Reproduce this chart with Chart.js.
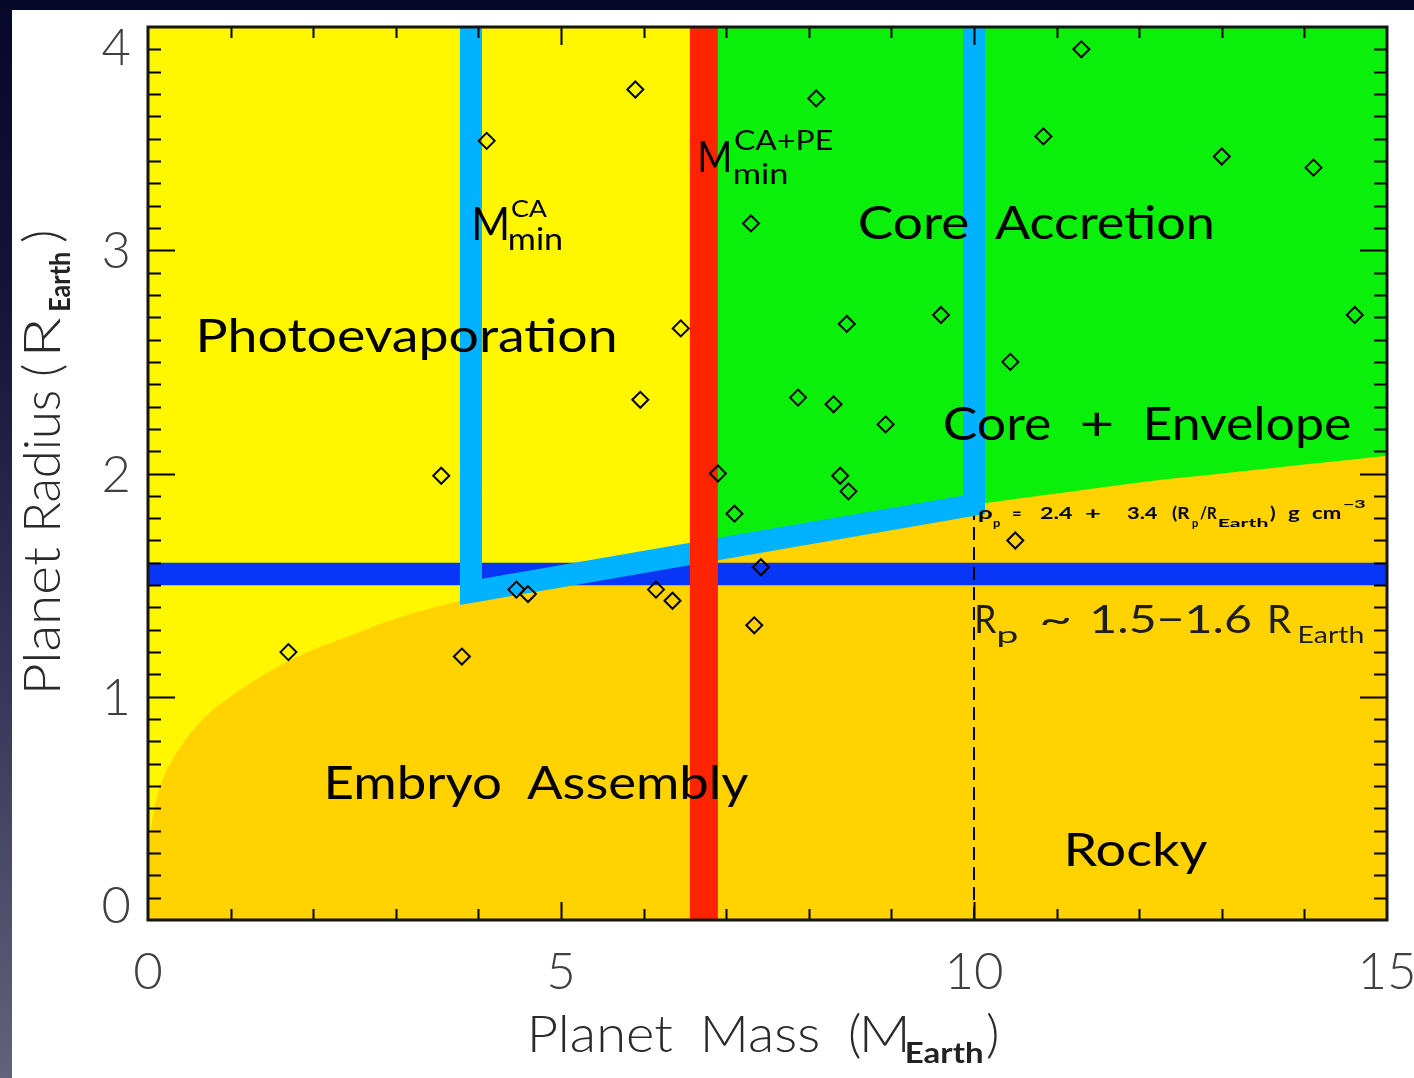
<!DOCTYPE html>
<html>
<head>
<meta charset="utf-8">
<script src="https://cdn.jsdelivr.net/npm/chart.js@4.4.1/dist/chart.umd.min.js"></script>
<style>
  html, body { margin: 0; padding: 0; }
  body {
    width: 1414px; height: 1078px; overflow: hidden;
    background: linear-gradient(to bottom, #07072a 0%, #16163a 30%, #38385a 65%, #62627c 100%);
  }
  canvas { position: absolute; left: 0; top: 0; display: block; }
</style>
</head>
<body>
<canvas id="chart" width="1414" height="1078"></canvas>
<script>
// ---- axes ----
const massRange = [0, 15];
const radiusRange = [0, 4];
const massTicks = [0, 5, 10, 15];
const radiusTicks = [0, 1, 2, 3, 4];

// ---- observed planets (mass in M_Earth, radius in R_Earth) ----
const planetMass   = [1.70, 3.55, 3.80, 4.10, 4.46, 4.60, 5.90, 5.96, 6.15, 6.35, 6.45,
                      6.90, 7.10, 7.30, 7.34, 7.42, 7.87, 8.09, 8.30, 8.38, 8.46, 8.48,
                      8.93, 9.60, 10.44, 10.50, 10.84, 11.30, 13.00, 14.11, 14.61];
const planetRadius = [1.20, 1.99, 1.18, 3.49, 1.48, 1.46, 3.72, 2.33, 1.48, 1.43, 2.65,
                      2.00, 1.82, 3.12, 1.32, 1.58, 2.34, 3.68, 2.31, 1.99, 2.67, 1.92,
                      2.22, 2.71, 2.50, 1.70, 3.51, 3.90, 3.42, 3.37, 2.71];

// ---- pure-rock mass-radius boundary ----
const rockyMass   = [0, 0.05, 0.1, 0.2, 0.3, 0.5, 0.75, 1, 1.5, 2, 2.5, 3, 4, 5, 6, 7, 8, 9, 10, 11, 12, 13, 14, 15];
const rockyRadius = [0.30, 0.44, 0.54, 0.65, 0.72, 0.83, 0.93, 1.00, 1.12, 1.21, 1.28, 1.35,
                     1.45, 1.54, 1.62, 1.69, 1.75, 1.81, 1.86, 1.91, 1.96, 2.00, 2.04, 2.08];

// ---- thresholds ----
const caMinMass   = [3.91, 3.91, 10.0, 10.0];   // M_min^CA track
const caMinRadius = [4.0, 1.47, 1.86, 4.0];
const pePeakMass  = [6.73, 6.73];               // M_min^CA+PE
const pePeakRadius = [0, 4];
const transitionRadius = [1.5, 1.6];            // R_p ~ 1.5-1.6 R_Earth
const densityMass = [10, 10];                   // density-relation marker
const densityRadius = [0, 1.84];
const photoMass = [0, 6.73];                    // photoevaporation domain
const accretionMass = [6.73, 15];               // core accretion domain

const pts = (xs, ys) => xs.map((x, i) => ({ x, y: ys[i] }));
const flat = (xs, v) => xs.map(x => ({ x, y: v }));

const C = {
  yellow: '#FFF600', green: '#0AF00A', gold: '#FFD200',
  red: '#FF2400', cyan: '#00B2FF', blue: '#0836F6'
};
const FONT = 'Lato, "DejaVu Sans", sans-serif';

// ---- text helpers ----
const capCache = {};
function capRatio(ctx, weight) {
  if (!capCache[weight]) {
    ctx.save();
    ctx.font = `${weight} 200px ${FONT}`;
    capCache[weight] = ctx.measureText('H').actualBoundingBoxAscent / 200;
    ctx.restore();
  }
  return capCache[weight];
}
// draws text whose ink spans x0..x1 with the given baseline and cap height;
// items flagged "natural" keep their own width and only start at x0
function fitText(ctx, item, x0, x1, base) {
  const weight = item.weight || '400';
  const size = item.cap / capRatio(ctx, weight);
  ctx.save();
  ctx.font = `${weight} ${size}px ${FONT}`;
  ctx.textAlign = 'left';
  ctx.textBaseline = 'alphabetic';
  const m = ctx.measureText(item.t);
  const w = m.actualBoundingBoxLeft + m.actualBoundingBoxRight;
  ctx.translate(x0, base);
  if (!item.natural) ctx.scale((x1 - x0) / w, 1);
  ctx.fillStyle = item.color || '#000';
  ctx.fillText(item.t, m.actualBoundingBoxLeft, 0);
  ctx.restore();
}

// in-plot annotations, anchored in data units (mass, radius)
const annotations = [
  { t: 'Photoevaporation', x0: 0.630, x1: 5.654, y: 2.544, cap: 34 },
  { t: 'Core', x0: 8.620, x1: 9.927, y: 3.050, cap: 33 },
  { t: 'Accretion', x0: 10.254, x1: 12.881, y: 3.050, cap: 33 },
  { t: 'Core', x0: 9.649, x1: 10.920, y: 2.150, cap: 33 },
  { t: '+', x0: 11.308, x1: 11.671, y: 2.150, cap: 33 },
  { t: 'Envelope', x0: 12.094, x1: 14.552, y: 2.150, cap: 33 },
  { t: 'Embryo', x0: 2.179, x1: 4.262, y: 0.542, cap: 34 },
  { t: 'Assembly', x0: 4.588, x1: 7.264, y: 0.542, cap: 34 },
  { t: 'Rocky', x0: 11.138, x1: 12.821, y: 0.242, cap: 34 },
  // M_min^CA
  { t: 'M', x0: 3.959, x1: 4.346, y: 3.046, cap: 33 },
  { t: 'CA', x0: 4.407, x1: 4.831, y: 3.149, cap: 17 },
  { t: 'min', x0: 4.383, x1: 5.012, y: 3.001, cap: 22 },
  // M_min^CA+PE
  { t: 'M', x0: 6.683, x1: 7.034, y: 3.350, cap: 30 },
  { t: 'CA+PE', x0: 7.107, x1: 8.281, y: 3.449, cap: 20 },
  { t: 'min', x0: 7.107, x1: 7.736, y: 3.297, cap: 21 },
  // R_p ~ 1.5-1.6 R_Earth
  { t: 'R', x0: 10.036, x1: 10.278, y: 1.286, cap: 28, color: '#1e1e1e' },
  { t: 'p', x0: 10.290, x1: 10.533, y: 1.241, cap: 17, color: '#1e1e1e' },
  { t: '~', x0: 10.823, x1: 11.162, y: 1.286, cap: 28, color: '#1e1e1e' },
  { t: '1.5\u22121.6', x0: 11.441, x1: 13.341, y: 1.286, cap: 28, color: '#1e1e1e' },
  { t: 'R', x0: 13.584, x1: 13.850, y: 1.286, cap: 28, color: '#1e1e1e' },
  { t: 'Earth', x0: 13.947, x1: 14.709, y: 1.241, cap: 17, color: '#1e1e1e' },
  // density relation
  { t: '\u03C1', x0: 10.048, x1: 10.218, y: 1.796, cap: 12, weight: '700' },
  { t: 'p', x0: 10.230, x1: 10.315, y: 1.760, cap: 8, weight: '700' },
  { t: '=', x0: 10.472, x1: 10.569, y: 1.796, cap: 12, weight: '700' },
  { t: '2.4', x0: 10.799, x1: 11.199, y: 1.796, cap: 12, weight: '700' },
  { t: '+', x0: 11.344, x1: 11.525, y: 1.796, cap: 12, weight: '700' },
  { t: '3.4', x0: 11.852, x1: 12.228, y: 1.796, cap: 12, weight: '700' },
  { t: '(R', x0: 12.397, x1: 12.615, y: 1.796, cap: 12, weight: '700' },
  { t: 'p', x0: 12.639, x1: 12.712, y: 1.760, cap: 8, weight: '700' },
  { t: '/R', x0: 12.736, x1: 12.942, y: 1.796, cap: 12, weight: '700' },
  { t: 'Earth', x0: 12.950, x1: 13.559, y: 1.760, cap: 8, weight: '700' },
  { t: ')', x0: 13.584, x1: 13.644, y: 1.796, cap: 12, weight: '700' },
  { t: 'g', x0: 13.801, x1: 13.947, y: 1.796, cap: 12, weight: '700' },
  { t: 'cm', x0: 14.092, x1: 14.431, y: 1.796, cap: 12, weight: '700' },
  { t: '\u22123', x0: 14.467, x1: 14.734, y: 1.845, cap: 8, weight: '700' }
];

// axis titles, in canvas pixels
const xTitle = [
  { t: 'Planet', x0: 532, x1: 673, y: 1052, cap: 37 },
  { t: 'Mass', x0: 705, x1: 818, y: 1052, cap: 37 },
  { t: '(', x0: 850, x1: 863, y: 1052, cap: 37, natural: true },
  { t: 'M', x0: 864, x1: 905, y: 1052, cap: 37 },
  { t: 'Earth', x0: 907, x1: 982, y: 1063, cap: 21, weight: '700', color: '#222' },
  { t: ')', x0: 987, x1: 1000, y: 1052, cap: 37, natural: true }
];
// along the rotated y title: distance from its start, offset from baseline
const yTitle = [
  { t: 'Planet', x0: 0, x1: 143, y: 0, cap: 37 },
  { t: 'Radius', x0: 162, x1: 298, y: 0, cap: 37 },
  { t: '(', x0: 315, x1: 328, y: 0, cap: 37, natural: true },
  { t: 'R', x0: 338, x1: 372, y: 0, cap: 37 },
  { t: 'Earth', x0: 380, x1: 437, y: 10, cap: 21, weight: '700', color: '#222' },
  { t: ')', x0: 448, x1: 461, y: 0, cap: 37, natural: true }
];

const backdrop = {
  id: 'backdrop',
  beforeDraw(chart) {
    const { ctx, width, height } = chart;
    ctx.save();
    ctx.fillStyle = '#ffffff';
    ctx.fillRect(12, 10, width - 12, height - 10);
    ctx.restore();
  }
};

const labels = {
  id: 'labels',
  afterDatasetsDraw(chart) {
    const { ctx, scales: { x, y } } = chart;
    annotations.forEach(a => {
      fitText(ctx, a, x.getPixelForValue(a.x0), x.getPixelForValue(a.x1), y.getPixelForValue(a.y));
    });
  }
};

const frame = {
  id: 'frame',
  afterDraw(chart) {
    const { ctx, chartArea: a, scales: { x, y } } = chart;
    ctx.save();
    ctx.strokeStyle = '#000';
    ctx.lineWidth = 2;
    ctx.beginPath();
    // mass ticks every 1, longer every 5 (bottom and top, pointing inward)
    const nx = Math.round(x.max - x.min);
    for (let i = 1; i < nx; i++) {
      const v = x.min + i;
      const px = Math.round(x.getPixelForValue(v)) + 0.5;
      const len = (v % 5 === 0) ? 18 : 11;
      ctx.moveTo(px, a.bottom); ctx.lineTo(px, a.bottom - len);
      ctx.moveTo(px, a.top); ctx.lineTo(px, a.top + len);
    }
    // radius ticks every 0.1, longer every 1 (left and right)
    const ny = Math.round((y.max - y.min) * 10);
    for (let i = 1; i < ny; i++) {
      const py = Math.round(y.getPixelForValue(y.min + i / 10)) + 0.5;
      const len = (i % 10 === 0) ? 27 : 13;
      ctx.moveTo(a.left, py); ctx.lineTo(a.left + len, py);
      ctx.moveTo(a.right, py); ctx.lineTo(a.right - len, py);
    }
    ctx.stroke();
    // plot frame
    ctx.lineWidth = 3;
    ctx.strokeStyle = '#151515';
    ctx.strokeRect(a.left, a.top, a.right - a.left, a.bottom - a.top);

    // radius tick labels, kept inside the frame at the ends
    const cap = 36;
    const size = cap / capRatio(ctx, '300');
    ctx.font = `300 ${size}px ${FONT}`;
    ctx.fillStyle = '#404040';
    ctx.textAlign = 'right';
    ctx.textBaseline = 'alphabetic';
    y.ticks.forEach(t => {
      let cy = y.getPixelForValue(t.value);
      cy = Math.min(Math.max(cy, a.top + 20), a.bottom - 15);
      ctx.fillText(String(t.value), 131, cy + cap / 2);
    });

    // axis titles
    xTitle.forEach(s => fitText(ctx, Object.assign({ weight: '300', color: '#2a2a2a' }, s), s.x0, s.x1, s.y));
    ctx.save();
    ctx.translate(60, 690);
    ctx.rotate(-Math.PI / 2);
    yTitle.forEach(s => fitText(ctx, Object.assign({ weight: '300', color: '#2a2a2a' }, s), s.x0, s.x1, s.y));
    ctx.restore();
    ctx.restore();
  }
};

const fillOnly = { borderColor: 'rgba(0,0,0,0)', borderWidth: 0, pointRadius: 0, clip: 0 };

new Chart(document.getElementById('chart'), {
  type: 'line',
  data: {
    datasets: [
      {
        label: 'Planets',
        data: pts(planetMass, planetRadius),
        showLine: false,
        pointStyle: 'rectRot',
        pointRadius: 8,
        pointBorderWidth: 2,
        pointBorderColor: '#000',
        pointBackgroundColor: 'rgba(0,0,0,0)',
        order: 0
      },
      {
        label: 'M_min^CA+PE',
        data: pts(pePeakMass, pePeakRadius),
        borderColor: C.red, borderWidth: 28, borderCapStyle: 'butt',
        pointRadius: 0, clip: 0, order: 1
      },
      {
        label: 'M_min^CA',
        data: pts(caMinMass, caMinRadius),
        borderColor: C.cyan, borderWidth: 22, borderJoinStyle: 'miter', borderCapStyle: 'butt',
        pointRadius: 0, clip: 0, order: 2
      },
      {
        label: 'Density relation',
        data: pts(densityMass, densityRadius),
        borderColor: '#000', borderWidth: 2, borderDash: [13, 7],
        pointRadius: 0, clip: 0, order: 3
      },
      Object.assign({
        label: 'Transition radius',
        data: flat(massRange, transitionRadius[1]),
        fill: { value: transitionRadius[0] },
        backgroundColor: C.blue,
        order: 4
      }, fillOnly),
      Object.assign({
        label: 'Rocky',
        data: pts(rockyMass, rockyRadius),
        cubicInterpolationMode: 'monotone',
        fill: 'origin',
        backgroundColor: C.gold,
        order: 5
      }, fillOnly),
      Object.assign({
        label: 'Core accretion',
        data: flat(accretionMass, radiusRange[1]),
        fill: 'origin',
        backgroundColor: C.green,
        order: 6
      }, fillOnly),
      Object.assign({
        label: 'Photoevaporation',
        data: flat(photoMass, radiusRange[1]),
        fill: 'origin',
        backgroundColor: C.yellow,
        order: 7
      }, fillOnly)
    ]
  },
  options: {
    responsive: false,
    animation: false,
    devicePixelRatio: 1,
    events: [],
    layout: { padding: { left: 0, right: 27, top: 27, bottom: 0 } },
    plugins: { legend: { display: false }, tooltip: { enabled: false } },
    scales: {
      x: {
        type: 'linear',
        min: massRange[0], max: massRange[1],
        grid: { display: false, drawTicks: false },
        border: { display: false },
        afterBuildTicks: s => { s.ticks = massTicks.map(v => ({ value: v })); },
        afterFit: s => { s.height = 158; s.paddingLeft = 0; s.paddingRight = 0; },
        ticks: {
          autoSkip: false, maxRotation: 0, padding: 22,
          color: '#404040',
          font: { family: FONT, size: 51, weight: '300' }
        }
      },
      y: {
        type: 'linear',
        min: radiusRange[0], max: radiusRange[1],
        grid: { display: false, drawTicks: false },
        border: { display: false },
        afterBuildTicks: s => { s.ticks = radiusTicks.map(v => ({ value: v })); },
        afterFit: s => { s.width = 148; s.paddingTop = 0; s.paddingBottom = 0; },
        ticks: { display: false }
      }
    }
  },
  plugins: [backdrop, labels, frame]
});
</script>
</body>
</html>
